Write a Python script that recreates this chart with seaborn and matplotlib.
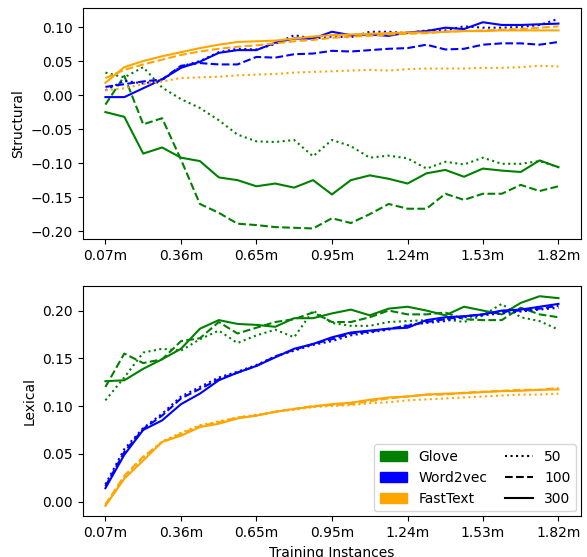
import numpy as np
import pandas as pd
import matplotlib
matplotlib.use('Agg')
import matplotlib.pyplot as plt
import seaborn as sns
from matplotlib.patches import Patch
from matplotlib.lines import Line2D

# training instances (millions)
train_m = [0.07, 0.143, 0.216, 0.289, 0.362, 0.435, 0.508, 0.580, 0.653, 0.726, 0.799, 0.872, 0.945,
           1.018, 1.091, 1.164, 1.237, 1.310, 1.383, 1.455, 1.528, 1.601, 1.674, 1.747, 1.820]
tick_vals = [0.07, 0.362, 0.653, 0.945, 1.237, 1.528, 1.820]
tick_labels = ['0.07m', '0.36m', '0.65m', '0.95m', '1.24m', '1.53m', '1.82m']

# structural scores
glove_50_s = [0.033, 0.026, 0.041, 0.011, -0.006, -0.019, -0.037, -0.058, -0.068, -0.069, -0.066, -0.090, -0.066,
              -0.075, -0.092, -0.089, -0.093, -0.108, -0.098, -0.102, -0.092, -0.101, -0.101, -0.097, -0.106]
glove_100_s = [-0.014, 0.028, -0.043, -0.034, -0.095, -0.160, -0.173, -0.189, -0.191, -0.194, -0.195, -0.196, -0.181,
               -0.188, -0.175, -0.160, -0.167, -0.167, -0.145, -0.154, -0.145, -0.145, -0.132, -0.141, -0.134]
glove_300_s = [-0.025, -0.032, -0.086, -0.077, -0.092, -0.097, -0.121, -0.125, -0.134, -0.130, -0.136, -0.125, -0.146,
               -0.125, -0.118, -0.123, -0.130, -0.115, -0.110, -0.120, -0.108, -0.111, -0.113, -0.096, -0.106]
w2v_50_s = [0.007, 0.021, 0.017, 0.022, 0.042, 0.050, 0.063, 0.068, 0.067, 0.075, 0.088, 0.083, 0.086,
            0.085, 0.093, 0.093, 0.091, 0.095, 0.095, 0.101, 0.099, 0.099, 0.100, 0.103, 0.112]
w2v_100_s = [0.012, 0.016, 0.020, 0.023, 0.043, 0.047, 0.045, 0.045, 0.056, 0.055, 0.060, 0.061, 0.065,
             0.064, 0.066, 0.068, 0.069, 0.074, 0.067, 0.068, 0.074, 0.076, 0.076, 0.074, 0.078]
w2v_300_s = [-0.003, -0.003, 0.010, 0.023, 0.040, 0.049, 0.062, 0.066, 0.066, 0.077, 0.083, 0.083, 0.093,
             0.088, 0.089, 0.087, 0.092, 0.094, 0.099, 0.097, 0.107, 0.103, 0.103, 0.104, 0.105]
ft_50_s = [0.007, 0.010, 0.016, 0.020, 0.025, 0.026, 0.027, 0.029, 0.030, 0.031, 0.033, 0.034, 0.035,
           0.036, 0.037, 0.036, 0.038, 0.039, 0.039, 0.039, 0.040, 0.040, 0.041, 0.043, 0.042]
ft_100_s = [0.025, 0.037, 0.045, 0.052, 0.059, 0.064, 0.068, 0.071, 0.073, 0.076, 0.079, 0.081, 0.084,
            0.086, 0.087, 0.089, 0.090, 0.091, 0.093, 0.094, 0.095, 0.096, 0.097, 0.099, 0.101]
ft_300_s = [0.018, 0.041, 0.050, 0.057, 0.063, 0.069, 0.074, 0.078, 0.079, 0.080, 0.083, 0.086, 0.088,
            0.089, 0.090, 0.091, 0.092, 0.092, 0.093, 0.094, 0.094, 0.095, 0.095, 0.095, 0.095]

# lexical scores
glove_50_l = [0.106, 0.130, 0.156, 0.160, 0.158, 0.170, 0.179, 0.166, 0.174, 0.180, 0.172, 0.200, 0.187,
              0.184, 0.184, 0.188, 0.189, 0.190, 0.191, 0.188, 0.195, 0.207, 0.193, 0.189, 0.180]
glove_100_l = [0.120, 0.155, 0.145, 0.149, 0.168, 0.171, 0.188, 0.176, 0.182, 0.188, 0.191, 0.198, 0.188,
               0.188, 0.193, 0.200, 0.196, 0.196, 0.198, 0.191, 0.190, 0.190, 0.203, 0.196, 0.193]
glove_300_l = [0.126, 0.127, 0.139, 0.149, 0.160, 0.181, 0.190, 0.186, 0.185, 0.183, 0.192, 0.192, 0.197,
               0.201, 0.195, 0.202, 0.204, 0.200, 0.195, 0.204, 0.200, 0.196, 0.208, 0.215, 0.213]
w2v_50_l = [0.018, 0.055, 0.077, 0.092, 0.110, 0.120, 0.130, 0.136, 0.143, 0.152, 0.158, 0.164, 0.168,
            0.174, 0.177, 0.180, 0.185, 0.187, 0.189, 0.193, 0.195, 0.197, 0.199, 0.201, 0.203]
w2v_100_l = [0.016, 0.052, 0.076, 0.090, 0.108, 0.118, 0.128, 0.135, 0.142, 0.152, 0.159, 0.165, 0.170,
             0.176, 0.178, 0.181, 0.184, 0.188, 0.191, 0.194, 0.196, 0.199, 0.200, 0.202, 0.205]
w2v_300_l = [0.014, 0.049, 0.075, 0.085, 0.102, 0.113, 0.127, 0.135, 0.142, 0.151, 0.160, 0.165, 0.172,
             0.177, 0.179, 0.181, 0.182, 0.190, 0.193, 0.194, 0.196, 0.200, 0.201, 0.204, 0.207]
ft_50_l = [-0.004, 0.025, 0.046, 0.063, 0.072, 0.080, 0.084, 0.088, 0.091, 0.094, 0.096, 0.099, 0.100,
           0.101, 0.103, 0.104, 0.106, 0.107, 0.108, 0.109, 0.110, 0.111, 0.112, 0.112, 0.113]
ft_100_l = [-0.003, 0.027, 0.047, 0.062, 0.071, 0.079, 0.083, 0.088, 0.090, 0.094, 0.097, 0.100, 0.101,
            0.102, 0.105, 0.108, 0.110, 0.112, 0.112, 0.114, 0.115, 0.116, 0.117, 0.117, 0.119]
ft_300_l = [-0.0045, 0.024, 0.043, 0.0625, 0.069, 0.078, 0.0815, 0.087, 0.090, 0.094, 0.097, 0.0995, 0.102,
            0.1035, 0.1066, 0.109, 0.110, 0.112, 0.113, 0.1135, 0.1146, 0.1156, 0.116, 0.117, 0.1174]

colors = {'Glove': 'green', 'Word2vec': 'blue', 'FastText': 'orange'}
styles = {'50': ':', '100': '--', '300': '-'}

structural = {('Glove', '50'): glove_50_s, ('Glove', '100'): glove_100_s, ('Glove', '300'): glove_300_s,
              ('Word2vec', '50'): w2v_50_s, ('Word2vec', '100'): w2v_100_s, ('Word2vec', '300'): w2v_300_s,
              ('FastText', '50'): ft_50_s, ('FastText', '100'): ft_100_s, ('FastText', '300'): ft_300_s}
lexical = {('Glove', '50'): glove_50_l, ('Glove', '100'): glove_100_l, ('Glove', '300'): glove_300_l,
           ('Word2vec', '50'): w2v_50_l, ('Word2vec', '100'): w2v_100_l, ('Word2vec', '300'): w2v_300_l,
           ('FastText', '50'): ft_50_l, ('FastText', '100'): ft_100_l, ('FastText', '300'): ft_300_l}

fig, (ax1, ax2) = plt.subplots(2, 1, figsize=(5.87, 5.57), dpi=100)
fig.subplots_adjust(left=0.141, right=0.99, bottom=0.073, top=0.985, hspace=0.203)

for ax, scores in [(ax1, structural), (ax2, lexical)]:
    for (emb, dim), vals in scores.items():
        df = pd.DataFrame({'train': train_m, 'score': vals})
        sns.lineplot(data=df, x='train', y='score', color=colors[emb], linestyle=styles[dim],
                     linewidth=1.5, ax=ax)
    ax.set_xticks(tick_vals)
    ax.set_xticklabels(tick_labels)

ax1.set_xlabel('')
ax1.set_ylabel('Structural')
ax2.set_xlabel('Training Instances')
ax2.set_ylabel('Lexical')

handles = [Patch(color=colors[k], label=k) for k in colors] + \
          [Line2D([0], [0], color='black', linestyle=styles[k], label=k) for k in styles]
ax2.legend(handles=handles, ncol=2, loc='lower right', columnspacing=1.3, borderaxespad=0.35)

plt.savefig('out.png', dpi=100)
